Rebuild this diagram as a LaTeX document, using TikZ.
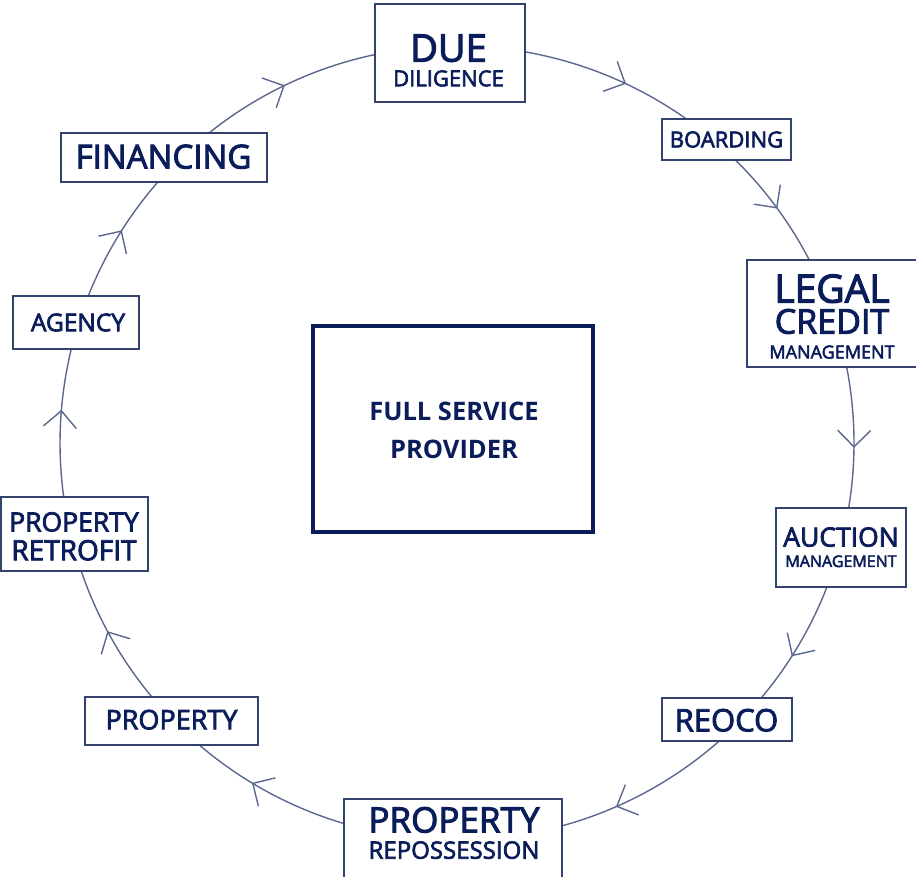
\documentclass[tikz,border=0pt]{standalone}
\usepackage{fontspec}
\setmainfont{Open Sans}
\newfontfamily\semi{Open Sans}[FakeBold=2.8]
\usetikzlibrary{arrows.meta,decorations.markings}
\definecolor{navy}{HTML}{0A1D5A}
\definecolor{boxline}{HTML}{34426E}
\definecolor{ring}{HTML}{5A678F}
\newcommand\stk[1]{\vbox{\offinterlineskip\halign{\hfil##\hfil\cr#1\crcr}}}
\newcommand\rw[2]{\relax\fontsize{#1}{#1}\selectfont #2\cr}
\newcommand\gp[1]{\noalign{\kern#1pt}}
\tikzset{
  box/.style={draw=boxline, line width=1.3pt, fill=white, inner sep=0pt},
  lbl/.style={text=navy, inner sep=0pt, font=\semi},
  flow/.style={draw=ring, line width=1.4pt},
  barb/.tip={Straight Barb[length=16.5pt,width=33pt]},
}
\begin{document}
\begin{tikzpicture}[x=1pt,y=1pt]
\useasboundingbox (0,0) rectangle (916,876);
\coordinate (O) at (457,433);
\foreach \n/\a in {due/90, boarding/48.4, legal/15, auction/-14, reoco/-44.6, repos/-90, property/-135, retrofit/-166.4, agency/-197.4, financing/-224.3}
  \coordinate (\n-p) at ([shift={(\a:397)}]O);
\foreach \s/\a/\t/\e/\b in {due/90/64.8/boarding/48.4, boarding/48.4/36.2/legal/15, legal/15/-0.7/auction/-14, auction/-14/-32.5/reoco/-44.6, reoco/-44.6/-66.4/repos/-90, repos/-90/-121.1/property/-135, property/-135/-151.7/retrofit/-166.4, retrofit/-166.4/-184.8/agency/-197.4, agency/-197.4/-212.4/financing/-224.3, financing/-224.3/-244.3/due/-270}
{
  \pgfmathsetmacro\p{(\a-\t)/(\a-\b)}
  \draw[flow, postaction={decorate}, decoration={markings, mark=at position \p with {\arrow{barb}}}]
    (\s-p) arc[start angle=\a, end angle=\b, radius=397];
}
% boxes
\node[box, minimum width=150pt, minimum height=98pt] (due) at (450,823) {};
\node[box, minimum width=129pt, minimum height=41pt] (boarding) at (726.5,736.5) {};
\node[box, minimum width=173pt, minimum height=107pt] (legal) at (833.5,562.5) {};
\node[box, minimum width=130pt, minimum height=79pt] (auction) at (841,328.5) {};
\node[box, minimum width=130pt, minimum height=43pt] (reoco) at (727,156.5) {};
\node[box, minimum width=218pt, minimum height=80pt] (repos) at (453,37) {};
\node[box, minimum width=173pt, minimum height=48pt] (property) at (171.5,155) {};
\node[box, minimum width=147pt, minimum height=74pt] (retrofit) at (74.5,342) {};
\node[box, minimum width=126pt, minimum height=53pt] (agency) at (76,553.5) {};
\node[box, minimum width=206pt, minimum height=49pt] (financing) at (164,718.5) {};
\node[box, draw=navy, line width=3.3pt, minimum width=280pt, minimum height=206pt] (fsp) at (453,447) {};
% labels
\node[lbl] (due-t) at (448.5,815.5) {\stk{\rw{38}{DUE}\gp{8.3}\rw{22}{DILIGENCE}}};
\node[lbl] (boarding-t) at (726.5,736.5) {\stk{\rw{22}{BOARDING}}};
\node[lbl] (legal-t) at (832,559.5) {\stk{\rw{39}{LEGAL}\gp{6}\rw{34}{CREDIT}\gp{11.5}\rw{18}{MANAGEMENT}}};
\node[lbl] (auction-t) at (841,328.75) {\stk{\rw{26.5}{AUCTION}\gp{8.6}\rw{16}{MANAGEMENT}}};
\node[lbl] (reoco-t) at (726.5,155.7) {\stk{\rw{31}{REOCO}}};
\node[lbl] (repos-t) at (454,43) {\stk{\rw{35}{PROPERTY}\gp{8.5}\rw{24}{REPOSSESSION}}};
\node[lbl] (property-t) at (171.5,156.3) {\stk{\rw{27}{PROPERTY}}};
\node[lbl] (retrofit-t) at (74,339.6) {\stk{\rw{26.5}{PROPERTY}\gp{8.3}\rw{28}{RETROFIT}}};
\node[lbl] (agency-t) at (78,553.5) {\stk{\rw{24.5}{AGENCY}}};
\node[lbl] (financing-t) at (163.5,719.3) {\stk{\rw{33}{FINANCING}}};
\node[lbl, font=\normalfont\bfseries] (fsp-t) at (454,445.6) {\stk{\rw{25.5}{FULL SERVICE}\gp{19.4}\rw{25.5}{PROVIDER}}};
\end{tikzpicture}
\end{document}
